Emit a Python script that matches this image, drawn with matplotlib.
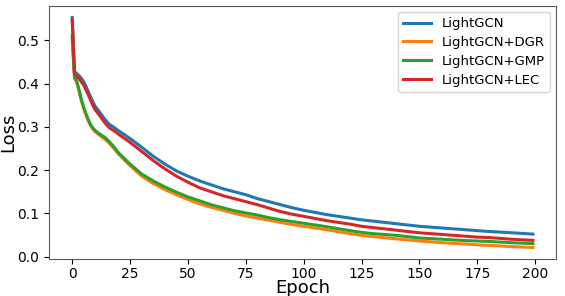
import numpy as np
import matplotlib
matplotlib.use('Agg')
import matplotlib.pyplot as plt

# 读图估计的损失值 (epoch 采样点)
epochs = [0, 1, 2, 3, 4, 5, 6, 7, 8, 9, 10, 12, 14, 16, 18, 20, 25, 30, 35, 40,
          45, 50, 55, 60, 65, 70, 75, 80, 85, 90, 95, 100, 110, 120, 125, 130,
          140, 150, 160, 170, 175, 180, 190, 199]

loss_lightgcn = [0.553, 0.428, 0.423, 0.418, 0.412, 0.404, 0.393, 0.381, 0.369, 0.357,
                 0.347, 0.333, 0.318, 0.306, 0.299, 0.291, 0.273, 0.253, 0.232, 0.214,
                 0.198, 0.186, 0.175, 0.166, 0.157, 0.150, 0.143, 0.134, 0.127, 0.120,
                 0.113, 0.107, 0.097, 0.089, 0.085, 0.082, 0.076, 0.070, 0.066, 0.062,
                 0.060, 0.058, 0.055, 0.052]

loss_dgr = [0.505, 0.413, 0.402, 0.381, 0.359, 0.341, 0.326, 0.313, 0.302, 0.294,
            0.288, 0.280, 0.272, 0.262, 0.250, 0.237, 0.210, 0.186, 0.169, 0.155,
            0.143, 0.132, 0.122, 0.114, 0.107, 0.100, 0.094, 0.089, 0.084, 0.079,
            0.074, 0.070, 0.062, 0.053, 0.049, 0.046, 0.041, 0.036, 0.032, 0.029,
            0.027, 0.026, 0.023, 0.021]

loss_gmp = [0.510, 0.415, 0.405, 0.385, 0.363, 0.345, 0.330, 0.316, 0.305, 0.297,
            0.291, 0.283, 0.276, 0.266, 0.254, 0.240, 0.214, 0.191, 0.175, 0.161,
            0.149, 0.138, 0.129, 0.120, 0.113, 0.106, 0.101, 0.096, 0.090, 0.085,
            0.081, 0.077, 0.069, 0.060, 0.056, 0.053, 0.049, 0.043, 0.040, 0.037,
            0.036, 0.035, 0.032, 0.030]

loss_lec = [0.548, 0.423, 0.417, 0.411, 0.404, 0.396, 0.385, 0.373, 0.361, 0.349,
            0.339, 0.325, 0.310, 0.298, 0.291, 0.283, 0.264, 0.243, 0.222, 0.203,
            0.186, 0.172, 0.159, 0.150, 0.141, 0.134, 0.127, 0.120, 0.112, 0.104,
            0.098, 0.093, 0.083, 0.075, 0.070, 0.067, 0.061, 0.055, 0.051, 0.047,
            0.045, 0.044, 0.040, 0.0375]

series = [
    ('LightGCN', loss_lightgcn, '#1f77b4'),
    ('LightGCN+DGR', loss_dgr, '#ff7f0e'),
    ('LightGCN+GMP', loss_gmp, '#2ca02c'),
    ('LightGCN+LEC', loss_lec, '#d62728'),
]

fig = plt.figure(figsize=(5.65, 2.96), dpi=100)
ax = fig.add_axes([0.087, 0.125, 0.897, 0.855])

for name, vals, c in series:
    ax.plot(epochs, vals, color=c, linewidth=2.2, label=name)

ax.set_xticks([0, 25, 50, 75, 100, 125, 150, 175, 200])
ax.set_yticks([0.0, 0.1, 0.2, 0.3, 0.4, 0.5])
ax.tick_params(labelsize=10)
ax.tick_params(axis='x', pad=2)
ax.set_xlabel('Epoch', fontsize=13)
ax.set_ylabel('Loss', fontsize=13)
ax.xaxis.set_label_coords(0.5, -0.08)
ax.yaxis.set_label_coords(-0.062, 0.5)
for sp in ax.spines.values():
    sp.set_color('0.35')

ax.legend(loc='upper right', fontsize=9.5, handlelength=2.1, labelspacing=0.45,
          borderaxespad=0.45)

fig.savefig('out.png', dpi=100)
